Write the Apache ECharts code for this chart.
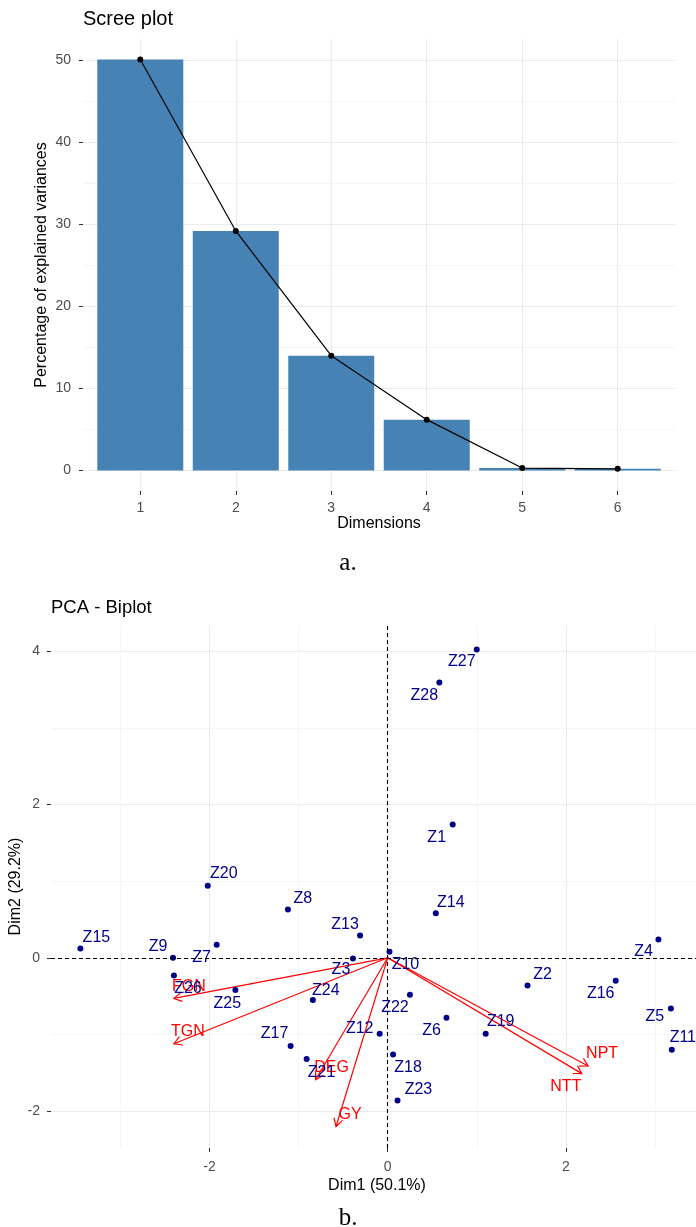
<!DOCTYPE html>
<html>
<head>
<meta charset="utf-8">
<script src="https://cdn.jsdelivr.net/npm/echarts@6/dist/echarts.min.js"></script>
<style>
  html, body { margin: 0; padding: 0; background: #fff; }
  #main { width: 696px; height: 1227px; }
</style>
</head>
<body>
<div id="main"></div>
<script>
// scree plot data
const dims = ['1', '2', '3', '4', '5', '6'];
const explained = [50.1, 29.2, 14.0, 6.2, 0.3, 0.2];
const screeTicks = [0, 10, 20, 30, 40, 50];

// individuals (biplot)
const indNames = ['Z1', 'Z2', 'Z3', 'Z4', 'Z5', 'Z6', 'Z7', 'Z8', 'Z9', 'Z10', 'Z11', 'Z12', 'Z13', 'Z14',
  'Z15', 'Z16', 'Z17', 'Z18', 'Z19', 'Z20', 'Z21', 'Z22', 'Z23', 'Z24', 'Z25', 'Z26', 'Z27', 'Z28'];
const indDim1 = [0.73, 1.57, -0.39, 3.04, 3.18, 0.66, -1.92, -1.12, -2.41, 0.02, 3.19, -0.09, -0.31, 0.54,
  -3.45, 2.56, -1.09, 0.06, 1.10, -2.02, -0.91, 0.25, 0.11, -0.84, -1.71, -2.40, 1.00, 0.58];
const indDim2 = [1.74, -0.36, -0.01, 0.24, -0.66, -0.78, 0.17, 0.63, 0.00, 0.08, -1.20, -0.99, 0.29, 0.58,
  0.12, -0.30, -1.15, -1.26, -0.99, 0.94, -1.32, -0.48, -1.86, -0.55, -0.42, -0.23, 4.02, 3.59];

// variables (arrows)
const varNames = ['FGN', 'TGN', 'DEG', 'GY', 'NPT', 'NTT'];
const varDim1 = [-2.40, -2.40, -0.81, -0.58, 2.25, 2.18];
const varDim2 = [-0.53, -1.12, -1.59, -2.20, -1.41, -1.51];

const bipXTicks = [-2, 0, 2];
const bipYTicks = [-2, 0, 2, 4];

// label offsets (px) – text placement like ggrepel
const indLabelOffset = {
  Z1: [-16, 13], Z2: [15, -11], Z3: [-12, 11], Z4: [-15, 12], Z5: [-16, 8], Z6: [-15, 13],
  Z7: [-15, 13], Z8: [15, -11], Z9: [-15, -11], Z10: [16, 13], Z11: [11, -12], Z12: [-20, -5],
  Z13: [-15, -11], Z14: [15, -11], Z15: [16, -11], Z16: [-15, 13], Z17: [-16, -12], Z18: [15, 13],
  Z19: [15, -12], Z20: [16, -12], Z21: [15, 14], Z22: [-15, 13], Z23: [21, -11], Z24: [13, -9],
  Z25: [-8, 14], Z26: [14, 13], Z27: [-15, 12], Z28: [-15, 13]
};
const varLabelOffset = {
  FGN: [15, -12], TGN: [14, -12], DEG: [16, -12], GY: [14, -12], NPT: [14, -12], NTT: [-16, 13]
};

const FONT = 'Arial, "Liberation Sans", sans-serif';
const SERIF = '"Liberation Serif", "Times New Roman", serif';
const minorOf = ticks => ticks.slice(1).map((t, i) => (t + ticks[i]) / 2);

const chart = echarts.init(document.getElementById('main'));

const tickStyle = { show: true, length: 4, lineStyle: { color: '#333', width: 1 } };
const labelStyle = { color: '#4d4d4d', fontSize: 14, fontFamily: FONT };
const nameStyle = { color: '#000', fontSize: 16, fontFamily: FONT };
const majorSplit = { show: true, lineStyle: { color: '#ebebeb', width: 1.2 } };
const minorSplit = { show: true, lineStyle: { color: '#f3f3f3', width: 0.8 } };
const noLine = { show: false, onZero: false };
const hiddenAxis = { axisLine: noLine, axisLabel: { show: false } };

chart.setOption({
  animation: false,
  backgroundColor: '#fff',
  title: [
    { text: 'Scree plot', left: 83, top: 9, padding: 0, textStyle: { fontSize: 20, fontWeight: 'normal', color: '#000', fontFamily: FONT } },
    { text: 'PCA - Biplot', left: 51, top: 598, padding: 0, textStyle: { fontSize: 18.5, fontWeight: 'normal', color: '#000', fontFamily: FONT } }
  ],
  grid: [
    { left: 83, top: 39, width: 592, height: 452, outerBoundsMode: 'none' },
    { left: 51, top: 625, width: 652, height: 523, outerBoundsMode: 'none' }
  ],
  xAxis: [
    {
      gridIndex: 0, type: 'value', min: 0.4, max: 6.6,
      axisLine: noLine,
      axisTick: Object.assign({}, tickStyle, { customValues: dims.map((d, i) => i + 1) }),
      axisLabel: Object.assign({}, labelStyle, { margin: 10, customValues: dims.map((d, i) => i + 1), formatter: v => dims[v - 1] }),
      splitLine: majorSplit,
      name: 'Dimensions', nameLocation: 'middle', nameGap: 25, nameTextStyle: nameStyle
    },
    {
      gridIndex: 1, type: 'value', min: -3.78, max: 3.54,
      axisLine: noLine,
      axisTick: Object.assign({}, tickStyle, { customValues: bipXTicks }),
      axisLabel: Object.assign({}, labelStyle, { margin: 12, customValues: bipXTicks }),
      splitLine: majorSplit,
      name: 'Dim1 (50.1%)', nameLocation: 'middle', nameGap: 30, nameTextStyle: nameStyle
    },
    Object.assign({
      gridIndex: 1, type: 'value', min: -3.78, max: 3.54, position: 'top',
      axisTick: { show: false, customValues: minorOf(bipXTicks).concat([-3, 3]) },
      splitLine: minorSplit
    }, hiddenAxis)
  ],
  yAxis: [
    {
      gridIndex: 0, type: 'value', min: -2.5, max: 52.6,
      axisLine: noLine,
      axisTick: Object.assign({}, tickStyle, { customValues: screeTicks }),
      axisLabel: Object.assign({}, labelStyle, { margin: 12, customValues: screeTicks }),
      splitLine: majorSplit,
      name: 'Percentage of explained variances', nameLocation: 'middle', nameGap: 33, nameRotate: 90,
      nameMoveOverlap: false, nameTextStyle: nameStyle
    },
    Object.assign({
      gridIndex: 0, type: 'value', min: -2.5, max: 52.6, position: 'right',
      axisTick: { show: false, customValues: minorOf(screeTicks) },
      splitLine: minorSplit
    }, hiddenAxis),
    {
      gridIndex: 1, type: 'value', min: -2.48, max: 4.34,
      axisLine: noLine,
      axisTick: Object.assign({}, tickStyle, { customValues: bipYTicks }),
      axisLabel: Object.assign({}, labelStyle, { margin: 11, customValues: bipYTicks }),
      splitLine: majorSplit,
      name: 'Dim2 (29.2%)', nameLocation: 'middle', nameGap: 27, nameRotate: 90,
      nameMoveOverlap: false, nameTextStyle: nameStyle
    },
    Object.assign({
      gridIndex: 1, type: 'value', min: -2.48, max: 4.34, position: 'right',
      axisTick: { show: false, customValues: minorOf(bipYTicks) },
      splitLine: minorSplit
    }, hiddenAxis)
  ],
  graphic: [
    { type: 'text', left: 'center', top: 551, style: { text: 'a.', fontSize: 25, fontFamily: SERIF, fill: '#000' } },
    { type: 'text', left: 'center', top: 1206, style: { text: 'b.', fontSize: 25, fontFamily: SERIF, fill: '#000' } }
  ],
  series: [
    {
      type: 'bar', xAxisIndex: 0, yAxisIndex: 0, barWidth: 86,
      itemStyle: { color: '#4682B4' },
      data: explained.map((v, i) => [i + 1, v])
    },
    {
      type: 'line', xAxisIndex: 0, yAxisIndex: 0,
      symbol: 'circle', symbolSize: 6,
      itemStyle: { color: '#000' }, lineStyle: { color: '#000', width: 1.2 },
      data: explained.map((v, i) => [i + 1, v])
    },
    {
      // reference lines at 0
      type: 'line', xAxisIndex: 1, yAxisIndex: 2, data: [], silent: true,
      markLine: {
        symbol: 'none', silent: true, label: { show: false },
        lineStyle: { color: '#000', type: [4, 3], width: 1.1 },
        data: [{ xAxis: 0 }, { yAxis: 0 }]
      }
    },
    {
      type: 'scatter', xAxisIndex: 1, yAxisIndex: 2,
      symbolSize: 6, itemStyle: { color: '#00008B', opacity: 1 },
      data: indNames.map((n, i) => ({
        name: n, value: [indDim1[i], indDim2[i]],
        label: { offset: indLabelOffset[n] }
      })),
      label: {
        show: true, position: 'inside', formatter: p => p.name,
        color: '#00008B', fontSize: 16, fontFamily: FONT
      }
    },
    {
      type: 'custom', xAxisIndex: 1, yAxisIndex: 2, clip: false,
      data: varNames.map((n, i) => [varDim1[i], varDim2[i]]),
      renderItem: (params, api) => {
        const o = api.coord([0, 0]);
        const t = api.coord([api.value(0), api.value(1)]);
        const ang = Math.atan2(t[1] - o[1], t[0] - o[0]);
        const L = 9, a = Math.PI / 6;
        const w1 = [t[0] - L * Math.cos(ang - a), t[1] - L * Math.sin(ang - a)];
        const w2 = [t[0] - L * Math.cos(ang + a), t[1] - L * Math.sin(ang + a)];
        const name = varNames[params.dataIndex];
        const off = varLabelOffset[name];
        return {
          type: 'group',
          children: [
            { type: 'line', shape: { x1: o[0], y1: o[1], x2: t[0], y2: t[1] }, style: { stroke: '#ff0000', lineWidth: 1.2 } },
            { type: 'polyline', shape: { points: [w1, t, w2] }, style: { stroke: '#ff0000', lineWidth: 1.2, fill: null } },
            {
              type: 'text', x: t[0] + off[0], y: t[1] + off[1],
              style: { text: name, fill: '#ff0000', fontSize: 16, fontFamily: FONT, align: 'center', verticalAlign: 'middle' }
            }
          ]
        };
      }
    }
  ]
});

window.addEventListener('resize', () => chart.resize());
</script>
</body>
</html>
